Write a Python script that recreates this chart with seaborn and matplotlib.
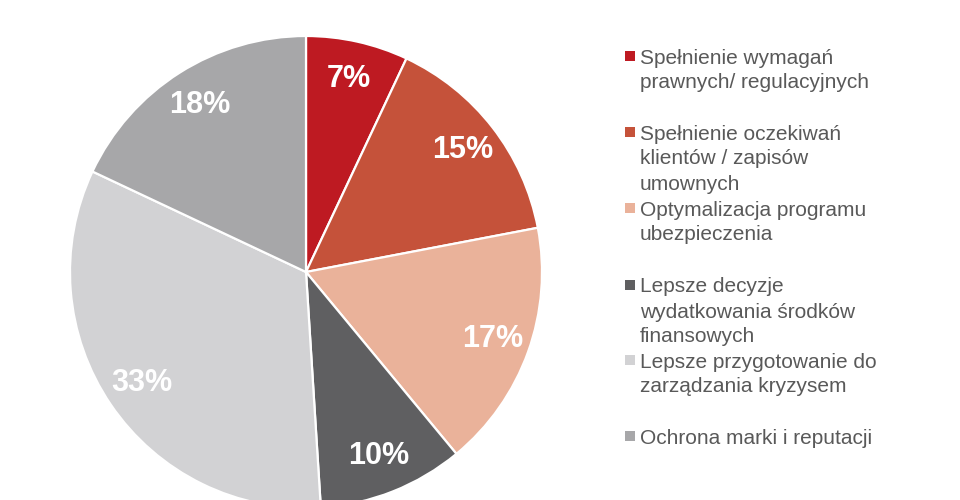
import matplotlib
matplotlib.use("Agg")
import matplotlib.pyplot as plt
import seaborn as sns
from matplotlib.patches import Rectangle

sns.set_theme(style="white")
plt.rcParams['font.family'] = ['Liberation Sans', 'DejaVu Sans']

categories = [
    "Spełnienie wymagań\nprawnych/ regulacyjnych",
    "Spełnienie oczekiwań\nklientów / zapisów\numownych",
    "Optymalizacja programu\nubezpieczenia",
    "Lepsze decyzje\nwydatkowania środków\nfinansowych",
    "Lepsze przygotowanie do\nzarządzania kryzysem",
    "Ochrona marki i reputacji",
]
values = [7, 15, 17, 10, 33, 18]
colors = ["#BE1A22", "#C5523A", "#EAB29A", "#5F5F61", "#D2D2D4", "#A7A7A9"]

W, H = 960, 500
fig = plt.figure(figsize=(9.6, 5.0), dpi=100)
cx, cy, R = 306, 272, 236
ax = fig.add_axes([(cx - R) / W, (H - cy - R) / H, 2 * R / W, 2 * R / H])
ax.pie(values, colors=colors, startangle=90, counterclock=False,
       autopct=lambda p: f"{p:.0f}%", pctdistance=0.84,
       wedgeprops=dict(edgecolor="white", linewidth=1.6),
       textprops=dict(color="white", fontsize=22, fontweight="bold"))
ax.set_xlim(-1, 1)
ax.set_ylim(-1, 1)
ax.set_aspect("equal")
ax.axis("off")

# legend drawn manually to mimic layout
first_line_y = [56, 132, 208, 285, 360, 436]
line_step = 25
for label, col, y0 in zip(categories, colors, first_line_y):
    fig.patches.append(Rectangle((625 / W, (H - y0 - 5) / H), 10 / W, 10 / H,
                                 transform=fig.transFigure, facecolor=col,
                                 edgecolor="none"))
    for i, line in enumerate(label.split("\n")):
        y = y0 + i * line_step + 7.5
        fig.text(640 / W, (H - y) / H, line, fontsize=15, color="#595959",
                 ha="left", va="baseline")

fig.savefig("out.png", dpi=100)
